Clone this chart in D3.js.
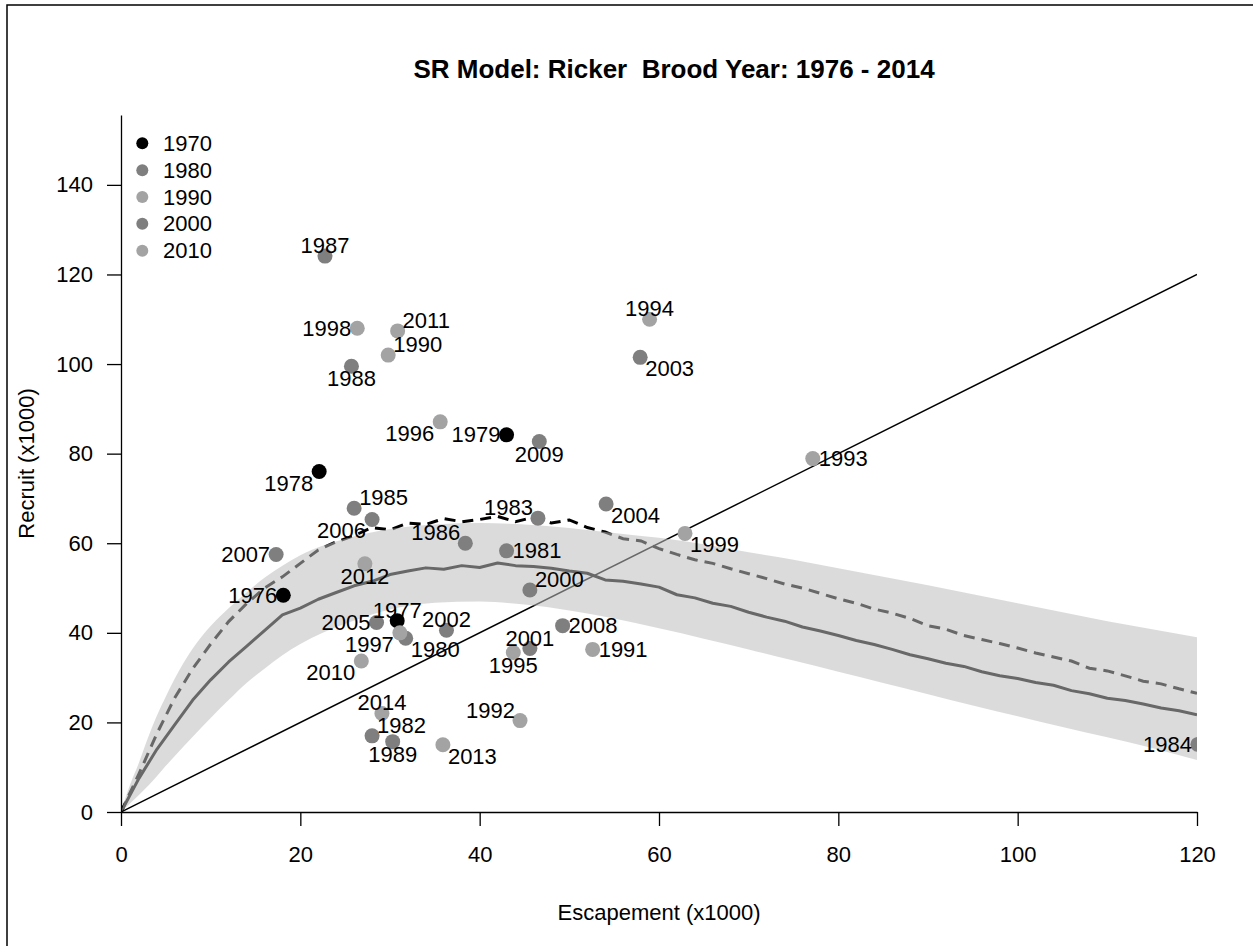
<!DOCTYPE html>
<html>
<head>
<meta charset="utf-8">
<script src="https://cdn.jsdelivr.net/npm/d3@7"></script>
<style>
body { margin: 0; background: #fff; }
svg { display: block; font-family: "Liberation Sans", Arial, Helvetica, sans-serif; }
</style>
</head>
<body>
<script>
// SR plot - Ricker, brood years 1976-2014

var years = [1976, 1977, 1978, 1979, 1980, 1981, 1982, 1983, 1984, 1985,
	1986, 1987, 1988, 1989, 1990, 1991, 1992, 1993, 1994, 1995,
	1996, 1997, 1998, 1999, 2000, 2001, 2002, 2003, 2004, 2005,
	2006, 2007, 2008, 2009, 2010, 2011, 2012, 2013, 2014];
var escapement = [18.1, 30.8, 22.1, 43.0, 31.75, 43.0, 28.0, 46.5, 120.1, 26.0,
	38.4, 22.75, 25.7, 30.3, 29.8, 52.6, 44.5, 77.15, 58.95, 43.75,
	35.6, 31.1, 26.35, 62.9, 45.6, 45.6, 36.3, 57.9, 54.1, 28.5,
	28.0, 17.3, 49.25, 46.65, 26.8, 30.85, 27.2, 35.9, 29.1];
var recruit = [48.4, 42.7, 76.0, 84.2, 38.8, 58.3, 17.0, 65.6, 15.1, 67.8,
	60.0, 124.1, 99.5, 15.7, 102.0, 36.3, 20.4, 78.9, 110.0, 35.6,
	87.1, 40.0, 108.0, 62.2, 49.55, 36.5, 40.6, 101.5, 68.75, 42.3,
	65.3, 57.5, 41.6, 82.7, 33.7, 107.4, 55.4, 15.0, 22.0];
// where each year label sits around its point
var labelSide = ["w", "n", "sw", "w", "se", "e", "ne", "nw", "w", "ne",
	"nw", "n", "s", "s", "ne", "e", "nw", "e", "n", "s",
	"sw", "sw", "w", "se", "ne", "n", "n", "se", "se", "w",
	"sw", "w", "e", "s", "sw", "ne", "s", "se", "n"];

var decades = [1970, 1980, 1990, 2000, 2010];
var decadeColors = ["#000000", "#7f7f7f", "#a3a3a3", "#7f7f7f", "#a3a3a3"];

// median (solid) and mean (dashed) recruit curves
var curveX = [0, 2, 4, 6, 8, 10, 12, 14, 16, 18, 20, 22, 24, 26, 28, 30, 32, 34, 36, 38,
	40, 42, 44, 46, 48, 50, 52, 54, 56, 58, 60, 62, 64, 66, 68, 70, 72, 74, 76, 78,
	80, 82, 84, 86, 88, 90, 92, 94, 96, 98, 100, 102, 104, 106, 108, 110, 112, 114, 116, 118, 120];
var medianR = [0, 7.5, 14, 19.5, 25, 29.5, 33.5, 37, 40.5, 44, 45.5, 47.5, 49, 50.5, 51.5, 53, 53.8, 54.5, 54.2, 55,
	54.6, 55.6, 55, 54.8, 54.4, 53.8, 53.3, 51.8, 51.5, 50.9, 50.2, 48.5, 47.8, 46.6, 45.9, 44.6, 43.5, 42.6, 41.3, 40.4,
	39.4, 38.3, 37.4, 36.3, 35.1, 34.2, 33.2, 32.5, 31.3, 30.4, 29.8, 28.9, 28.3, 27.1, 26.4, 25.4, 24.9, 24.1, 23.2, 22.6, 21.7];
var meanR = [0, 8.5, 17.5, 25.5, 32, 37.5, 42.5, 46.5, 50, 52.5, 55.5, 58.5, 60.3, 61.7, 63.5, 63, 64.5, 64.2, 65.5, 64.8,
	65.3, 66, 64.8, 65.8, 64.5, 65.2, 63.5, 62.5, 61, 60.5, 58.8, 57.5, 56.3, 55.5, 54.3, 53.2, 52.1, 50.9, 50, 48.8,
	47.6, 46.6, 45.3, 44.4, 43.2, 41.6, 40.8, 39.4, 38.5, 37.6, 36.6, 35.5, 34.6, 33.7, 32.1, 31.5, 30.4, 29.2, 28.6, 27.5, 26.5];

// 90% band
var bandX = [0, 1, 2, 3, 4, 5, 6, 8, 10, 12, 14, 16, 18, 20, 25, 30, 35, 40, 45, 50, 55, 60,
	65, 70, 75, 80, 85, 90, 95, 100, 105, 110, 115, 120];
var bandLow = [0, 1.9, 3.8, 5.8, 8, 10.3, 12.5, 16.8, 21, 25, 28.8, 32, 35, 37.5, 42, 45.2, 46.7, 47, 46.3, 45, 43.2, 41,
	38.7, 36.3, 33.8, 31.3, 28.8, 26.3, 23.8, 21.4, 19, 16.7, 14.3, 11.6];
var bandHigh = [0, 6, 11, 16.5, 21.5, 25.8, 29.8, 36.5, 41.5, 45.5, 49, 52.3, 55, 57.3, 61, 63.2, 64.2, 64.5, 64.2, 63.4, 62.3, 61.2,
	59.8, 58, 56.3, 54.4, 52.5, 50.6, 48.6, 46.6, 44.6, 42.6, 40.8, 39];

var xTicks = [0, 20, 40, 60, 80, 100, 120];
var yTicks = [0, 20, 40, 60, 80, 100, 120, 140];

var W = 1253, H = 946,
	pLeft = 121, pRight = 1197, pTop = 115, pBottom = 812,
	fs = 22;

var svg = d3.select("body")
	.append("svg")
	.attr("width", W)
	.attr("height", H);

var x = d3.scaleLinear().domain([0, 120]).range([pLeft, pRight]);
var y = d3.scaleLinear().domain([0, 155.6]).range([pBottom, pTop]);

// outer frame
svg.append("rect")
	.attr("x", 7).attr("y", 5)
	.attr("width", 1262).attr("height", 962)
	.attr("fill", "none").attr("stroke", "#000").attr("stroke-width", 1.5);

svg.append("clipPath").attr("id", "plotclip")
	.append("rect")
	.attr("x", pLeft).attr("y", pTop)
	.attr("width", pRight - pLeft).attr("height", pBottom - pTop);

var plot = svg.append("g").attr("clip-path", "url(#plotclip)");

// 1:1 replacement line
plot.append("line")
	.attr("x1", x(0)).attr("y1", y(0))
	.attr("x2", x(120)).attr("y2", y(120))
	.attr("stroke", "#000").attr("stroke-width", 1.5);

var line = d3.line()
	.x((d, i) => x(curveX[i]))
	.y(d => y(d));

plot.append("path")
	.attr("d", line(medianR))
	.attr("fill", "none").attr("stroke", "#000").attr("stroke-width", 3)
	.attr("stroke-linejoin", "round");

plot.append("path")
	.attr("d", line(meanR))
	.attr("fill", "none").attr("stroke", "#000").attr("stroke-width", 3)
	.attr("stroke-dasharray", "11,7");

// band sits over the lines, half see-through
var area = d3.area()
	.x((d, i) => x(bandX[i]))
	.y0((d, i) => y(bandLow[i]))
	.y1(d => y(d))
	.curve(d3.curveMonotoneX);

plot.append("path")
	.attr("d", area(bandHigh))
	.attr("fill", "#bebebe")
	.attr("fill-opacity", 0.55);

function colorOf(yr) {
	return decadeColors[decades.indexOf(Math.floor(yr / 10) * 10)];
}

plot.selectAll("circle.pt")
	.data(years)
	.enter()
	.append("circle")
	.attr("class", "pt")
	.attr("cx", (d, i) => x(escapement[i]))
	.attr("cy", (d, i) => y(recruit[i]))
	.attr("r", 7.5)
	.attr("fill", d => colorOf(d));

// label offsets for each side
var off = {
	n:  { dx: 0,  dy: -3,  a: "middle" },
	s:  { dx: 0,  dy: 20,  a: "middle" },
	e:  { dx: 6,  dy: 7.5, a: "start" },
	w:  { dx: -6, dy: 7.5, a: "end" },
	ne: { dx: 5,  dy: -3,  a: "start" },
	nw: { dx: -5, dy: -3,  a: "end" },
	se: { dx: 5,  dy: 19,  a: "start" },
	sw: { dx: -6, dy: 19,  a: "end" }
};

plot.selectAll("text.lab")
	.data(years)
	.enter()
	.append("text")
	.attr("class", "lab")
	.attr("x", (d, i) => x(escapement[i]) + off[labelSide[i]].dx)
	.attr("y", (d, i) => y(recruit[i]) + off[labelSide[i]].dy)
	.attr("text-anchor", (d, i) => off[labelSide[i]].a)
	.attr("font-size", fs)
	.attr("fill", "#000")
	.text(d => d);

// axes
var xAxis = svg.append("g")
	.attr("transform", "translate(0," + pBottom + ")")
	.call(d3.axisBottom(x).tickValues(xTicks).tickSize(14).tickSizeOuter(0).tickPadding(20));
var yAxis = svg.append("g")
	.attr("transform", "translate(" + pLeft + ",0)")
	.call(d3.axisLeft(y).tickValues(yTicks).tickSize(14).tickSizeOuter(0).tickPadding(14));

[xAxis, yAxis].forEach(function(g) {
	g.selectAll("path, line").attr("stroke", "#000").attr("stroke-width", 1.3);
	g.selectAll("text")
		.attr("font-size", fs)
		.attr("font-family", "Liberation Sans, Arial, sans-serif")
		.attr("fill", "#000");
});

// titles
svg.append("text")
	.attr("x", 674).attr("y", 78)
	.attr("text-anchor", "middle")
	.attr("font-size", 26).attr("font-weight", "bold")
	.style("white-space", "pre")
	.text("SR Model: Ricker  Brood Year: 1976 - 2014");

svg.append("text")
	.attr("x", (pLeft + pRight) / 2).attr("y", 920)
	.attr("text-anchor", "middle")
	.attr("font-size", fs)
	.text("Escapement (x1000)");

svg.append("text")
	.attr("transform", "translate(34," + ((pTop + pBottom) / 2) + ") rotate(-90)")
	.attr("text-anchor", "middle")
	.attr("font-size", fs)
	.text("Recruit (x1000)");

// legend
var legend = svg.append("g");
decades.forEach(function(dec, i) {
	var cy = 143.3 + i * 26.85;
	legend.append("circle")
		.attr("cx", 142.3).attr("cy", cy).attr("r", 6)
		.attr("fill", decadeColors[i]);
	legend.append("text")
		.attr("x", 163).attr("y", cy + 7.5)
		.attr("font-size", fs)
		.text(dec);
});
</script>
</body>
</html>
